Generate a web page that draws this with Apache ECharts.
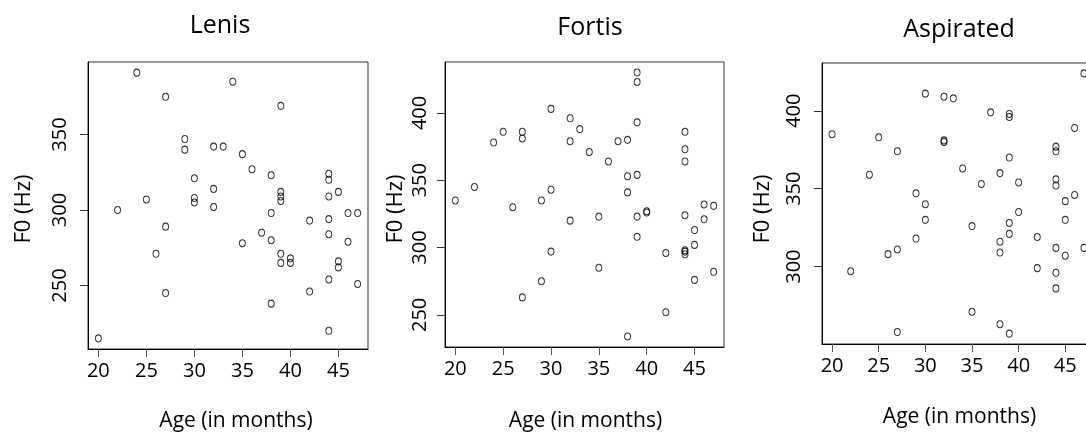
<!DOCTYPE html>
<html><head><meta charset="utf-8">
<script src="https://cdn.jsdelivr.net/npm/echarts@6/dist/echarts.min.js"></script>
<style>html,body{margin:0;padding:0;background:#fff}#c{width:1086px;height:433px}</style>
</head><body><div id="c"></div><script>
// Age in months (same children in all three panels)
const ages = [20,22,24,25,26,27,27,27,29,29,30,30,30,32,32,32,33,34,35,35,36,37,38,38,38,38,39,39,39,39,39,39,40,40,42,42,44,44,44,44,44,44,44,45,45,45,46,46,47,47];
const lenisF0 = [215,300,391,307,271,375,289,245,347,340,321,308,305,342,314,302,342,385,337,278,327,285,323,298,280,238,369,312,309,306,271,265,268,265,293,246,324,320,309,294,284,254,220,312,266,262,279,298,298,251];
const fortisF0 = [335,345,378,386,330,386,381,263,335,275,403,343,297,396,379,320,388,371,323,285,364,379,380,353,341,234,430,423,393,354,323,308,327,326,296,252,386,373,364,324,298,297,295,313,302,276,332,321,331,282];
const aspiratedF0 = [385,297,359,383,308,311,374,258,347,318,411,340,330,409,381,380,408,363,326,271,353,399,360,316,309,263,398,396,370,328,321,257,354,335,319,299,377,374,356,352,312,296,286,342,330,307,389,346,424,312];
const xTicks = [20,25,30,35,40,45];
const lenisYTicks = [250,300,350];
const fortisYTicks = [250,300,350,400];
const aspiratedYTicks = [300,350,400];
const titles = ['Lenis','Fortis','Aspirated'];
const xName = 'Age (in months)';
const yName = 'F0 (Hz)';

const layout = [
  {grid:{left:88,top:62,width:280,height:287}, ym:18, tx:220, ty:26, nx:236, ny:421, yx:24},
  {grid:{left:445,top:62,width:279,height:285}, ym:15, tx:590, ty:28, nx:585.5, ny:421, yx:396},
  {grid:{left:822,top:63,width:272,height:281}, ym:18, tx:959, ty:29.5, nx:959.5, ny:417.5, yx:762.5}
];
const f0s = [lenisF0, fortisF0, aspiratedF0];
const yTicks = [lenisYTicks, fortisYTicks, aspiratedYTicks];

function rng(a){const mn=Math.min(...a),mx=Math.max(...a),p=(mx-mn)*0.04;return [mn-p,mx+p];}
const xr = rng(ages);

const grids=[],xAxes=[],yAxes=[],series=[],graphics=[];
layout.forEach((L,i)=>{
  grids.push(Object.assign({show:true,borderColor:'#333',borderWidth:1,containLabel:false,outerBoundsMode:'none'},L.grid));
  xAxes.push({type:'value',gridIndex:i,min:xr[0],max:xr[1],
    axisLine:{show:true,onZero:false,lineStyle:{color:'#000',width:1}},
    axisTick:{show:true,customValues:xTicks,length:8,lineStyle:{color:'#555'}},
    axisLabel:{customValues:xTicks,margin:12,fontSize:20,fontFamily:'Open Sans',color:'#000'},
    splitLine:{show:false}});
  const yr = rng(f0s[i]);
  yAxes.push({type:'value',gridIndex:i,min:yr[0],max:yr[1],
    axisLine:{show:true,onZero:false,lineStyle:{color:'#000',width:1}},
    axisTick:{show:true,customValues:yTicks[i],length:8,lineStyle:{color:'#333'}},
    axisLabel:{customValues:yTicks[i],rotate:90,margin:L.ym,fontSize:20,fontFamily:'Liberation Sans Narrow, Open Sans',color:'#000'},
    splitLine:{show:false}});
  series.push({type:'scatter',xAxisIndex:i,yAxisIndex:i,
    data:ages.map((a,j)=>[a,f0s[i][j]]),
    symbol:'circle',symbolSize:[6,7],
    itemStyle:{color:'rgba(0,0,0,0)',borderColor:'#000',borderWidth:1},
    silent:true});
  graphics.push({type:'text',x:L.tx,y:L.ty,style:{text:titles[i],textAlign:'center',textVerticalAlign:'middle',fontSize:25,fontFamily:'Open Sans',fill:'#000'}});
  graphics.push({type:'text',x:L.nx,y:L.ny,style:{text:xName,textAlign:'center',textVerticalAlign:'middle',fontSize:21,fontFamily:'Open Sans',fill:'#000'}});
  graphics.push({type:'text',x:L.yx,y:209,rotation:Math.PI/2,style:{text:yName,textAlign:'center',textVerticalAlign:'middle',fontSize:22,fontFamily:'Open Sans',fill:'#000'}});
});

const chart = echarts.init(document.getElementById('c'),null,{renderer:'canvas'});
chart.setOption({animation:false,backgroundColor:'#fff',grid:grids,xAxis:xAxes,yAxis:yAxes,series:series,graphic:graphics});
</script></body></html>
